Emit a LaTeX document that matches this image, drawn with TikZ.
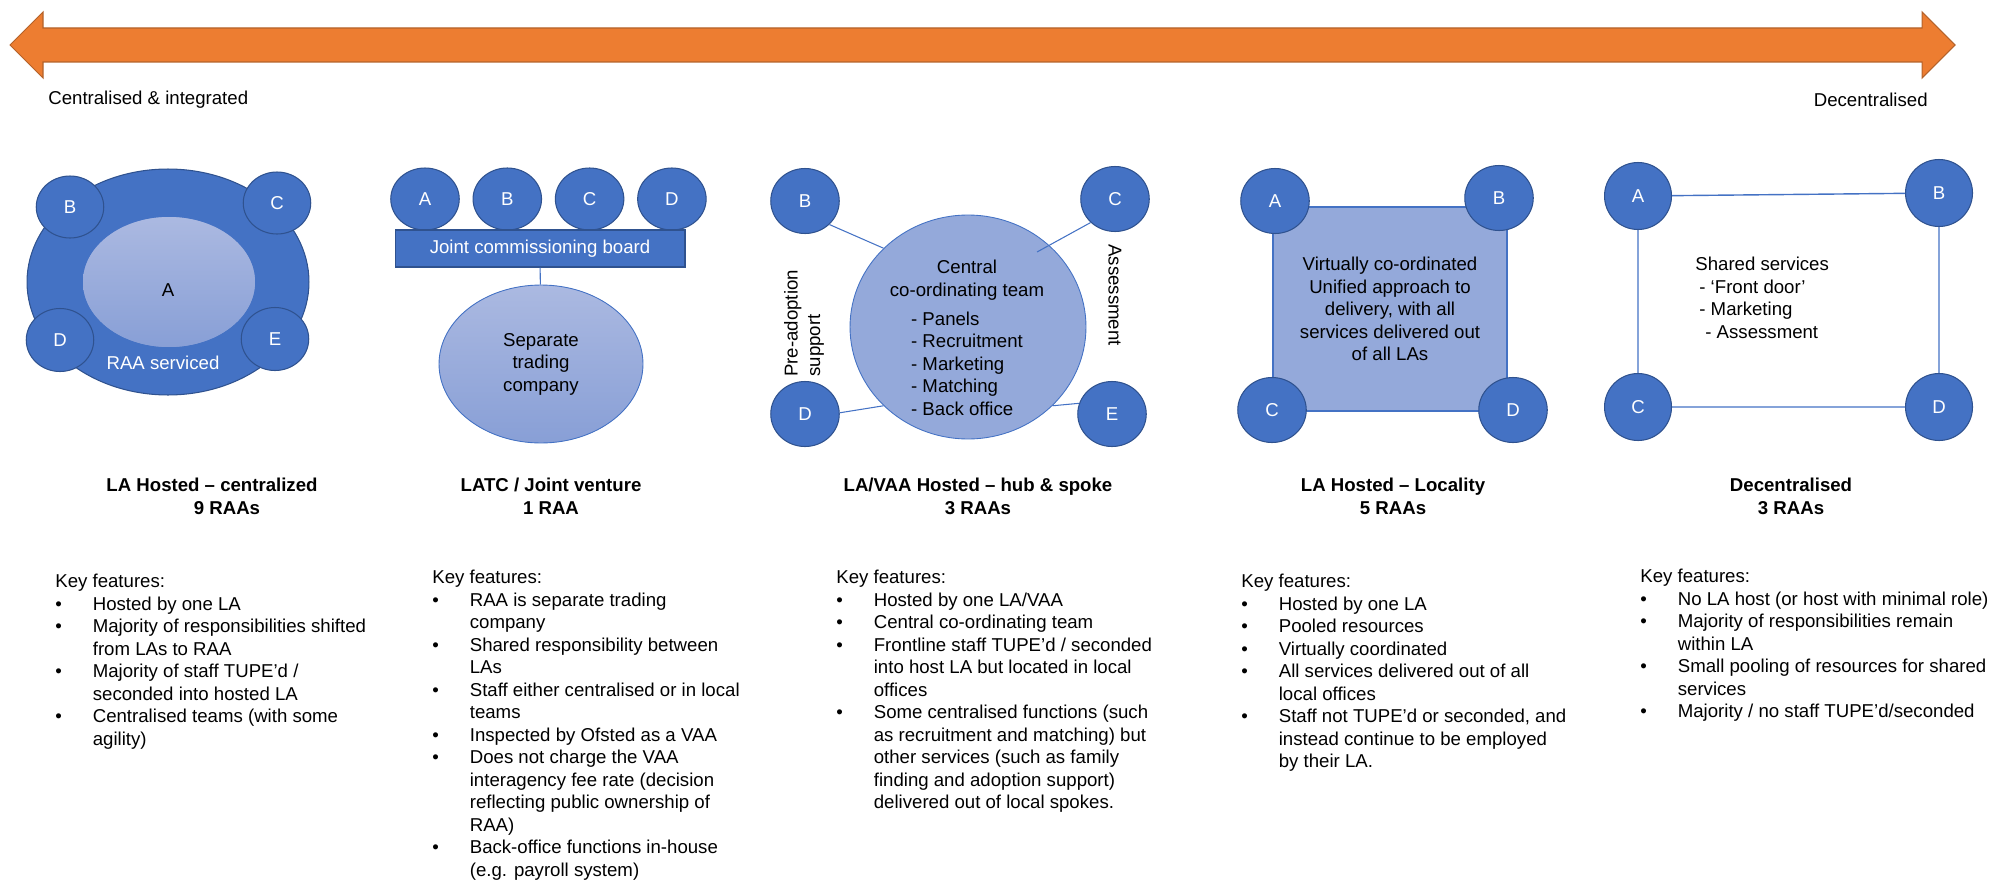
\documentclass[tikz,border=0pt]{standalone}
\usepackage{fontspec}
\setmainfont{Liberation Sans}
\usetikzlibrary{shapes.geometric}
\definecolor{raablue}{HTML}{4472C4}
\definecolor{raaedge}{HTML}{2F528F}
\definecolor{raalight}{HTML}{94A9DA}
\definecolor{raatop}{HTML}{ABB9E1}
\definecolor{raabottom}{HTML}{889FD6}
\definecolor{spectrum}{HTML}{ED7D31}
\definecolor{spectrumedge}{HTML}{B4622A}
\newcommand{\raafont}{\fontsize{10.6pt}{12.8pt}\selectfont}
\newcommand{\bul}{\makebox[0.75cm][l]{\textbullet}}
\newcommand{\cont}{\hspace*{0.75cm}}
\tikzset{
la/.style={
  ellipse, draw=raaedge, line width=0.6pt, fill=raablue,
  text=white, inner sep=0pt,
  minimum width=1.37cm, minimum height=1.3cm
},
hub/.style={
  ellipse, draw=raablue, line width=0.5pt, fill=raalight, inner sep=0pt
},
board/.style={
  rectangle, draw=raaedge, line width=0.6pt, fill=raablue, text=white,
  minimum width=5.8cm, minimum height=0.74cm
},
spoke/.style={draw=raablue, line width=0.6pt},
model/.style={font=\raafont\bfseries, align=center, inner sep=0pt, anchor=north},
keys/.style={align=left, inner sep=0pt, anchor=north west}
}

\begin{document}
\begin{tikzpicture}[x=0.02cm, y=-0.02cm, font=\raafont]
\useasboundingbox (0,0) rectangle (1993,882);
% the spectrum arrow
\draw[fill=spectrum, draw=spectrumedge, line width=0.6pt]
  (10,45) -- (43,12) -- (43,28) -- (1922,28) -- (1922,12) -- (1955,45)
  -- (1922,78) -- (1922,62) -- (43,62) -- (43,78) -- cycle;
\node[anchor=base west, inner sep=0pt] (left-end) at (48,105) {Centralised \& integrated};
\node[anchor=base east, inner sep=0pt] (right-end) at (1928,107) {Decentralised};

% LA hosted - centralized
\node[la, minimum width=5.64cm, minimum height=4.52cm] (cen-ring) at (168,282) {};
\node[hub, draw=none, top color=raatop, bottom color=raabottom,
  minimum width=3.44cm, minimum height=2.6cm] (cen-hub) at (169,282) {};
\node (cen-A) at (168,290) {A};
\node[la, minimum width=1.35cm, minimum height=1.24cm] (cen-B) at (70,207) {B};
\node[la, minimum width=1.35cm, minimum height=1.24cm] (cen-C) at (277,203) {C};
\node[la, minimum width=1.35cm, minimum height=1.26cm] (cen-D) at (60,340) {D};
\node[la, minimum width=1.35cm, minimum height=1.26cm] (cen-E) at (275,339) {E};
\node[text=white] (cen-serviced) at (163,363) {RAA serviced};

% LATC / joint venture
\foreach \l [count=\i from 0] in {A,B,C,D}
  \node[la, minimum height=1.24cm] (jv-\l) at (425+82.3*\i,199) {\l};
\node[board] (jv-board) at (540,248.5) {Joint commissioning board};
\node[hub, top color=raatop, bottom color=raabottom, align=center,
  minimum width=4.08cm, minimum height=3.16cm] (jv-company) at (541,364)
  {Separate\\trading\\company};
\draw[spoke] (jv-board) -- (jv-company);

% LA/VAA hosted - hub & spoke
\node[hub, minimum width=4.72cm, minimum height=4.48cm] (hs-hub) at (968,327) {};
\node[align=center, inner sep=0pt] (hs-team) at (967,341)
  {Central\\co-ordinating team\\[3.6pt]\begin{tabular}[t]{@{}l@{}}- Panels\\- Recruitment\\- Marketing\\- Matching\\- Back office\end{tabular}};
\node[la] (hs-B) at (805,201) {B};
\node[la] (hs-C) at (1115,199) {C};
\node[la] (hs-D) at (805,414) {D};
\node[la] (hs-E) at (1112,414) {E};
\coordinate (hs-C-end) at (1037,252);
\draw[spoke] (hs-B.-44) -- (hs-hub.137);
\draw[spoke] (hs-C.-136) -- (hs-C-end);
\draw[spoke] (hs-D.2) -- (hs-hub.-137);
\draw[spoke] (hs-E.162) -- (hs-hub.-43);
\node[rotate=90, anchor=west, align=left, inner sep=0pt] (hs-pre) at (804,377) {Pre-adoption\\support};
\node[rotate=-90, inner sep=0pt] (hs-assess) at (1115,295) {Assessment};

% LA hosted - locality
\node[hub, rectangle, line width=0.8pt, align=center,
  minimum width=4.68cm, minimum height=4.08cm] (loc-hub) at (1390,309)
  {Virtually co-ordinated\\Unified approach to\\delivery, with all\\services delivered out\\of all LAs};
\node[la] (loc-A) at (1275,201) {A};
\node[la] (loc-B) at (1499,198) {B};
\node[la] (loc-C) at (1272,410) {C};
\node[la] (loc-D) at (1513,410) {D};

% decentralised
\node[la, minimum width=1.34cm, minimum height=1.34cm] (dec-A) at (1638,196) {A};
\node[la, minimum width=1.34cm, minimum height=1.34cm] (dec-B) at (1939,193) {B};
\node[la, minimum width=1.34cm, minimum height=1.34cm] (dec-C) at (1638,407) {C};
\node[la, minimum width=1.34cm, minimum height=1.34cm] (dec-D) at (1939,407) {D};
\draw[spoke, line width=0.8pt] (dec-A) -- (dec-B) (dec-A) -- (dec-C)
  (dec-B) -- (dec-D) (dec-C) -- (dec-D);
\node[align=left, anchor=west, inner sep=0pt] (dec-shared) at (1695,298)
  {Shared services\\\hspace*{0.08cm}- ‘Front door’\\\hspace*{0.08cm}- Marketing\\\hspace*{0.2cm}- Assessment};

% model names
\node[model] (cen-title) at (212,478) {LA Hosted – centralized\\\hspace*{0.6cm}9 RAAs};
\node[model] (jv-title) at (551,478) {LATC / Joint venture\\1 RAA};
\node[model] (hs-title) at (978,478) {LA/VAA Hosted – hub \& spoke\\3 RAAs};
\node[model] (loc-title) at (1393,478) {LA Hosted – Locality\\5 RAAs};
\node[model] (dec-title) at (1791,478) {Decentralised\\3 RAAs};

% key features
\node[keys] (cen-keys) at (55,574) {Key features:\\
  \bul Hosted by one LA\\
  \bul Majority of responsibilities shifted\\
  \cont from LAs to RAA\\
  \bul Majority of staff TUPE’d /\\
  \cont seconded into hosted LA\\
  \bul Centralised teams (with some\\
  \cont agility)};
\node[keys] (jv-keys) at (432,570) {Key features:\\
  \bul RAA is separate trading\\
  \cont company\\
  \bul Shared responsibility between\\
  \cont LAs\\
  \bul Staff either centralised or in local\\
  \cont teams\\
  \bul Inspected by Ofsted as a VAA\\
  \bul Does not charge the VAA\\
  \cont interagency fee rate (decision\\
  \cont reflecting public ownership of\\
  \cont RAA)\\
  \bul Back-office functions in-house\\
  \cont (e.g. payroll system)};
\node[keys] (hs-keys) at (836,570) {Key features:\\
  \bul Hosted by one LA/VAA\\
  \bul Central co-ordinating team\\
  \bul Frontline staff TUPE’d / seconded\\
  \cont into host LA but located in local\\
  \cont offices\\
  \bul Some centralised functions (such\\
  \cont as recruitment and matching) but\\
  \cont other services (such as family\\
  \cont finding and adoption support)\\
  \cont delivered out of local spokes.};
\node[keys] (loc-keys) at (1241,574) {Key features:\\
  \bul Hosted by one LA\\
  \bul Pooled resources\\
  \bul Virtually coordinated\\
  \bul All services delivered out of all\\
  \cont local offices\\
  \bul Staff not TUPE’d or seconded, and\\
  \cont instead continue to be employed\\
  \cont by their LA.};
\node[keys] (dec-keys) at (1640,569) {Key features:\\
  \bul No LA host (or host with minimal role)\\
  \bul Majority of responsibilities remain\\
  \cont within LA\\
  \bul Small pooling of resources for shared\\
  \cont services\\
  \bul Majority / no staff TUPE’d/seconded};
\end{tikzpicture}
\end{document}
